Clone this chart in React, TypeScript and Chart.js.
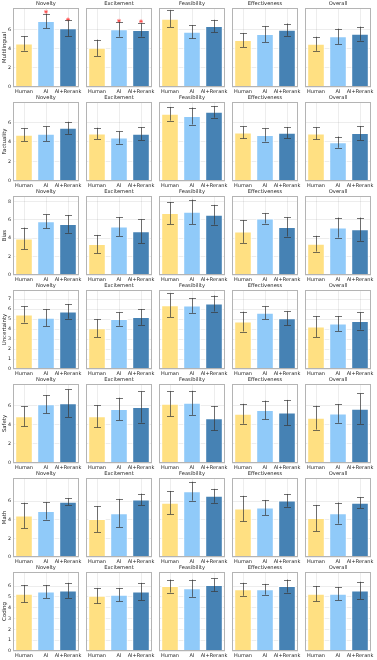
import { useEffect, useRef } from 'react';
import { Chart, registerables } from 'chart.js';
Chart.register(...registerables);

const groups = ['Human', 'AI', 'AI+Rerank'];
const metrics = ['Novelty', 'Excitement', 'Feasibility', 'Effectiveness', 'Overall'];
const topics = ['Multilingual', 'Factuality', 'Bias', 'Uncertainty', 'Safety', 'Math', 'Coding'];

// means[metric][group], errs[metric][group]
const multilingualMean = [[4.58, 6.94, 6.16], [4.12, 6.06, 5.99], [7.18, 5.81, 6.41], [4.93, 5.56, 6.02], [4.54, 5.32, 5.6]];
const multilingualErr = [[0.76, 0.76, 0.83], [0.86, 0.78, 0.7], [0.88, 0.7, 0.65], [0.74, 0.83, 0.65], [0.74, 0.81, 0.74]];
const factualityMean = [[4.75, 4.85, 5.45], [4.88, 4.45, 4.85], [6.89, 6.66, 7.09], [4.98, 4.72, 4.95], [4.88, 3.98, 4.92]];
const factualityErr = [[0.65, 0.75, 0.62], [0.58, 0.63, 0.65], [0.7, 0.87, 0.6], [0.62, 0.67, 0.58], [0.62, 0.58, 0.72]];
const biasMean = [[3.98, 5.84, 5.56], [3.37, 5.27, 4.77], [6.74, 6.88, 6.56], [4.73, 6.16, 5.23], [3.41, 5.16, 4.98]];
const biasErr = [[1.18, 0.75, 0.97], [0.99, 1.02, 1.29], [1.2, 1.33, 1.08], [1.24, 0.56, 1.04], [0.86, 1.09, 1.27]];
const uncertaintyMean = [[5.46, 5.13, 5.76], [4.08, 5.0, 5.2], [6.38, 6.35, 6.55], [4.74, 5.63, 5.07], [4.24, 4.54, 4.8]];
const uncertaintyErr = [[0.81, 0.84, 0.74], [0.89, 0.67, 0.79], [1.18, 0.74, 0.8], [0.99, 0.64, 0.69], [1.04, 0.74, 0.86]];
const safetyMean = [[4.9, 6.18, 6.28], [4.9, 5.68, 5.88], [6.22, 6.32, 4.7], [5.17, 5.57, 5.3], [4.76, 5.2, 5.71]];
const safetyErr = [[1.05, 0.96, 1.45], [1.17, 1.18, 1.64], [1.32, 1.27, 1.28], [1.05, 0.98, 1.33], [1.25, 0.98, 1.6]];
const mathMean = [[4.47, 4.96, 5.95], [4.08, 4.72, 6.2], [5.85, 7.08, 6.58], [5.21, 5.32, 6.09], [4.19, 4.72, 5.85]];
const mathErr = [[1.37, 0.93, 0.37], [1.39, 1.53, 0.62], [1.25, 1.02, 0.75], [1.37, 0.81, 0.69], [1.41, 1.14, 0.58]];
const codingMean = [[5.3, 5.5, 5.6], [5.1, 5.2, 5.5], [6.0, 5.8, 6.1], [5.7, 5.7, 6.0], [5.3, 5.3, 5.6]];
const codingErr = [[0.8, 0.6, 0.7], [0.7, 0.6, 0.8], [0.6, 0.8, 0.6], [0.6, 0.5, 0.6], [0.7, 0.6, 0.8]];

// significance stars (Multilingual row only)
const multilingualStars: (number | null)[][] = [[null, 7.9, 7.1], [null, 6.95, 6.9], [null, null, null], [null, null, null], [null, null, null]];

const topicMeans = [multilingualMean, factualityMean, biasMean, uncertaintyMean, safetyMean, mathMean, codingMean];
const topicErrs = [multilingualErr, factualityErr, biasErr, uncertaintyErr, safetyErr, mathErr, codingErr];
const yMaxByTopic = [8.3, 8.1, 8.6, 7.9, 8.3, 8.5, 7.3];
const yStepByTopic = [2, 2, 2, 1, 2, 2, 1];

const barColors = ['#FFE082', '#90CAF9', '#4682B4'];
const FONT = '"DejaVu Sans", sans-serif';

const PLOT_W = 66;
const PLOT_H = 79;
const PAD_TOP = 8;
const X_AXIS_H = 10;
const PAD_R = 8;

function geom(r: number, c: number) {
  const plotLeft = 13 + 73 * c;
  const axisW = c === 0 ? 13 : 0;
  const padL = c === 0 ? 0 : 6;
  const left = plotLeft - axisW - padL;
  const width = padL + axisW + PLOT_W + PAD_R;
  const top = 94 * r;
  const height = PAD_TOP + PLOT_H + X_AXIS_H;
  return { left, width, top, height, axisW, padL };
}

const errorBarPlugin = {
  id: 'errorBars',
  afterDatasetsDraw(chart: any) {
    const errs: number[] = chart.options.plugins.errorBars.errs;
    const means: number[] = chart.data.datasets[0].data;
    const meta = chart.getDatasetMeta(0);
    const y = chart.scales.y;
    const ctx = chart.ctx;
    ctx.save();
    ctx.strokeStyle = 'rgba(55,55,55,0.7)';
    ctx.lineWidth = 1;
    meta.data.forEach((el: any, i: number) => {
      const x = Math.round(el.x) + 0.5;
      const y1 = y.getPixelForValue(means[i] + errs[i]);
      const y2 = y.getPixelForValue(means[i] - errs[i]);
      ctx.beginPath();
      ctx.moveTo(x, y1);
      ctx.lineTo(x, y2);
      ctx.moveTo(x - 3.5, Math.round(y1) + 0.5);
      ctx.lineTo(x + 3.5, Math.round(y1) + 0.5);
      ctx.moveTo(x - 3.5, Math.round(y2) + 0.5);
      ctx.lineTo(x + 3.5, Math.round(y2) + 0.5);
      ctx.stroke();
    });
    ctx.restore();
  },
};

const framePlugin = {
  id: 'frameTitle',
  afterDraw(chart: any) {
    const { left, right, top, bottom } = chart.chartArea;
    const ctx = chart.ctx;
    ctx.save();
    ctx.strokeStyle = '#b4b4b4';
    ctx.lineWidth = 1;
    ctx.strokeRect(Math.round(left) + 0.5, Math.round(top) + 0.5, Math.round(right - left) - 1, Math.round(bottom - top) - 1);
    ctx.fillStyle = '#262626';
    ctx.font = `5.2px ${FONT}`;
    ctx.textAlign = 'center';
    ctx.textBaseline = 'middle';
    ctx.fillText(chart.options.plugins.frameTitle.text, (left + right) / 2, top - 4);
    ctx.restore();
  },
};

export default function App() {
  const refs = useRef<(HTMLCanvasElement | null)[]>([]);

  useEffect(() => {
    const charts: Chart[] = [];
    topics.forEach((topic, r) => {
      metrics.forEach((metric, c) => {
        const canvas = refs.current[r * 5 + c];
        if (!canvas) return;
        const g = geom(r, c);
        const step = yStepByTopic[r];
        const datasets: any[] = [
          {
            type: 'bar',
            data: topicMeans[r][c],
            backgroundColor: barColors,
            borderColor: '#ffffff',
            borderWidth: 1,
            barPercentage: 0.8,
            categoryPercentage: 1,
          },
        ];
        if (r === 0 && multilingualStars[c].some((v) => v !== null)) {
          datasets.push({
            type: 'line',
            data: multilingualStars[c],
            showLine: false,
            pointStyle: 'star',
            pointRadius: 2,
            pointBorderWidth: 0.8,
            pointBorderColor: 'rgba(255,50,50,0.8)',
            pointBackgroundColor: 'rgba(255,50,50,0.8)',
          });
        }
        const chart = new Chart(canvas, {
          type: 'bar',
          data: { labels: groups, datasets },
          plugins: [errorBarPlugin, framePlugin],
          options: {
            animation: false,
            responsive: false,
            maintainAspectRatio: false,
            events: [],
            devicePixelRatio: 1,
            layout: { padding: { top: PAD_TOP, left: g.padL, right: PAD_R, bottom: 0 } },
            plugins: {
              legend: { display: false },
              tooltip: { enabled: false },
              errorBars: { errs: topicErrs[r][c] },
              frameTitle: { text: metric },
            } as any,
            scales: {
              x: {
                grid: { offset: false, color: 'rgba(0,0,0,0.07)', drawTicks: false },
                border: { display: false },
                ticks: { font: { size: 5, family: FONT }, color: '#262626', padding: 1.5, maxRotation: 0, autoSkip: false },
                afterFit: (s: any) => {
                  s.height = X_AXIS_H;
                  s.paddingLeft = 0;
                  s.paddingRight = 0;
                },
              },
              y: {
                min: 0,
                max: yMaxByTopic[r],
                grid: { color: 'rgba(0,0,0,0.07)', drawTicks: false },
                border: { display: false },
                ticks: {
                  display: c === 0,
                  stepSize: step,
                  autoSkip: false,
                  font: { size: 4.8, family: FONT },
                  color: '#262626',
                  padding: 2,
                },
                title: {
                  display: c === 0,
                  text: topic,
                  font: { size: 5.4, family: FONT },
                  color: '#262626',
                  padding: { top: 1.5, bottom: 0 },
                },
                afterBuildTicks: (s: any) => {
                  s.ticks = s.ticks.filter((t: any) => Math.abs(t.value / step - Math.round(t.value / step)) < 1e-6);
                },
                afterFit: (s: any) => {
                  s.width = g.axisW;
                  s.paddingTop = 0;
                  s.paddingBottom = 0;
                },
              },
            },
          } as any,
        });
        charts.push(chart);
      });
    });
    return () => charts.forEach((ch) => ch.destroy());
  }, []);

  const canvases: any[] = [];
  topics.forEach((_, r) => {
    metrics.forEach((__, c) => {
      const g = geom(r, c);
      const idx = r * 5 + c;
      canvases.push(
        <canvas
          key={idx}
          ref={(el) => {
            refs.current[idx] = el;
          }}
          width={g.width}
          height={g.height}
          style={{ position: 'absolute', left: g.left, top: g.top, width: g.width, height: g.height }}
        />
      );
    });
  });

  return (
    <div style={{ position: 'absolute', left: 0, top: 0, width: 377, height: 660, background: '#fff' }}>
      {canvases}
    </div>
  );
}
